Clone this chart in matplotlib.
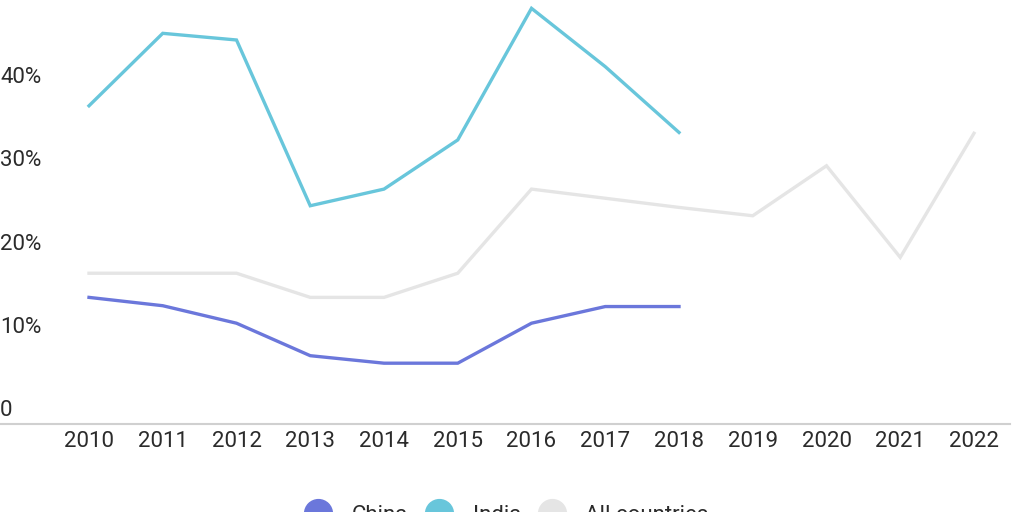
import matplotlib.pyplot as plt
from matplotlib.lines import Line2D

plt.rcParams['font.family'] = ['Roboto', 'DejaVu Sans']

# Data (share, %)
years = list(range(2010, 2023))
china_years = list(range(2010, 2019))
china = [15.2, 14.2, 12.1, 8.2, 7.3, 7.3, 12.1, 14.1, 14.1]
india_years = list(range(2010, 2019))
india = [38.2, 46.9, 46.1, 26.2, 28.2, 34.1, 49.9, 42.9, 35.0]
all_countries = [18.1, 18.1, 18.1, 15.2, 15.2, 18.1, 28.2, 27.1, 26.0, 25.0, 31.0, 20.0, 34.9]
ytick_vals = [0, 10, 20, 30, 40, 50]
ytick_labels = ['0', '10%', '20%', '30%', '40%', '50%']

c_china = '#6b77db'
c_india = '#68c6db'
c_all = '#e5e5e5'
c_text = '#2b2b2b'

fig = plt.figure(figsize=(10.24, 5.12), dpi=100)
ax = fig.add_axes([0, 88 / 512, 1010 / 1024, 424 / 512])

ax.plot(years, all_countries, color=c_all, lw=2.4, solid_joinstyle='miter')
ax.plot(india_years, india, color=c_india, lw=2.4, solid_joinstyle='miter')
ax.plot(china_years, china, color=c_china, lw=2.4, solid_joinstyle='miter')

ax.set_xlim(2010 - 89 / 73.75, 2010 + 921 / 73.75)
ax.set_ylim(0, 424 / 8.33)

for s in ['top', 'right', 'left']:
    ax.spines[s].set_visible(False)
ax.spines['bottom'].set_color('#d0d0d0')
ax.spines['bottom'].set_linewidth(1.5)

ax.set_xticks(years)
ax.set_xticklabels([str(y) for y in years], fontsize=16, color=c_text)
ax.tick_params(axis='x', length=0, pad=5)
ax.set_yticks([])

# y labels sit above their value, at the left edge
for v, lab in zip(ytick_vals, ytick_labels):
    ax.annotate(lab, xy=(0, v), xycoords=('axes fraction', 'data'),
                xytext=(0, 2), textcoords='offset points',
                ha='left', va='bottom', fontsize=16, color=c_text)

handles = [Line2D([], [], ls='none', marker='o', markersize=20, color=c)
           for c in [c_china, c_india, c_all]]
fig.legend(handles, ['China', 'India', 'All countries'], loc='center',
           bbox_to_anchor=(0.495, -0.006), ncol=3, frameon=False,
           fontsize=16, handlelength=1.2, handletextpad=0.9,
           columnspacing=0.8, labelcolor=c_text)

fig.savefig('out.png', dpi=100)
